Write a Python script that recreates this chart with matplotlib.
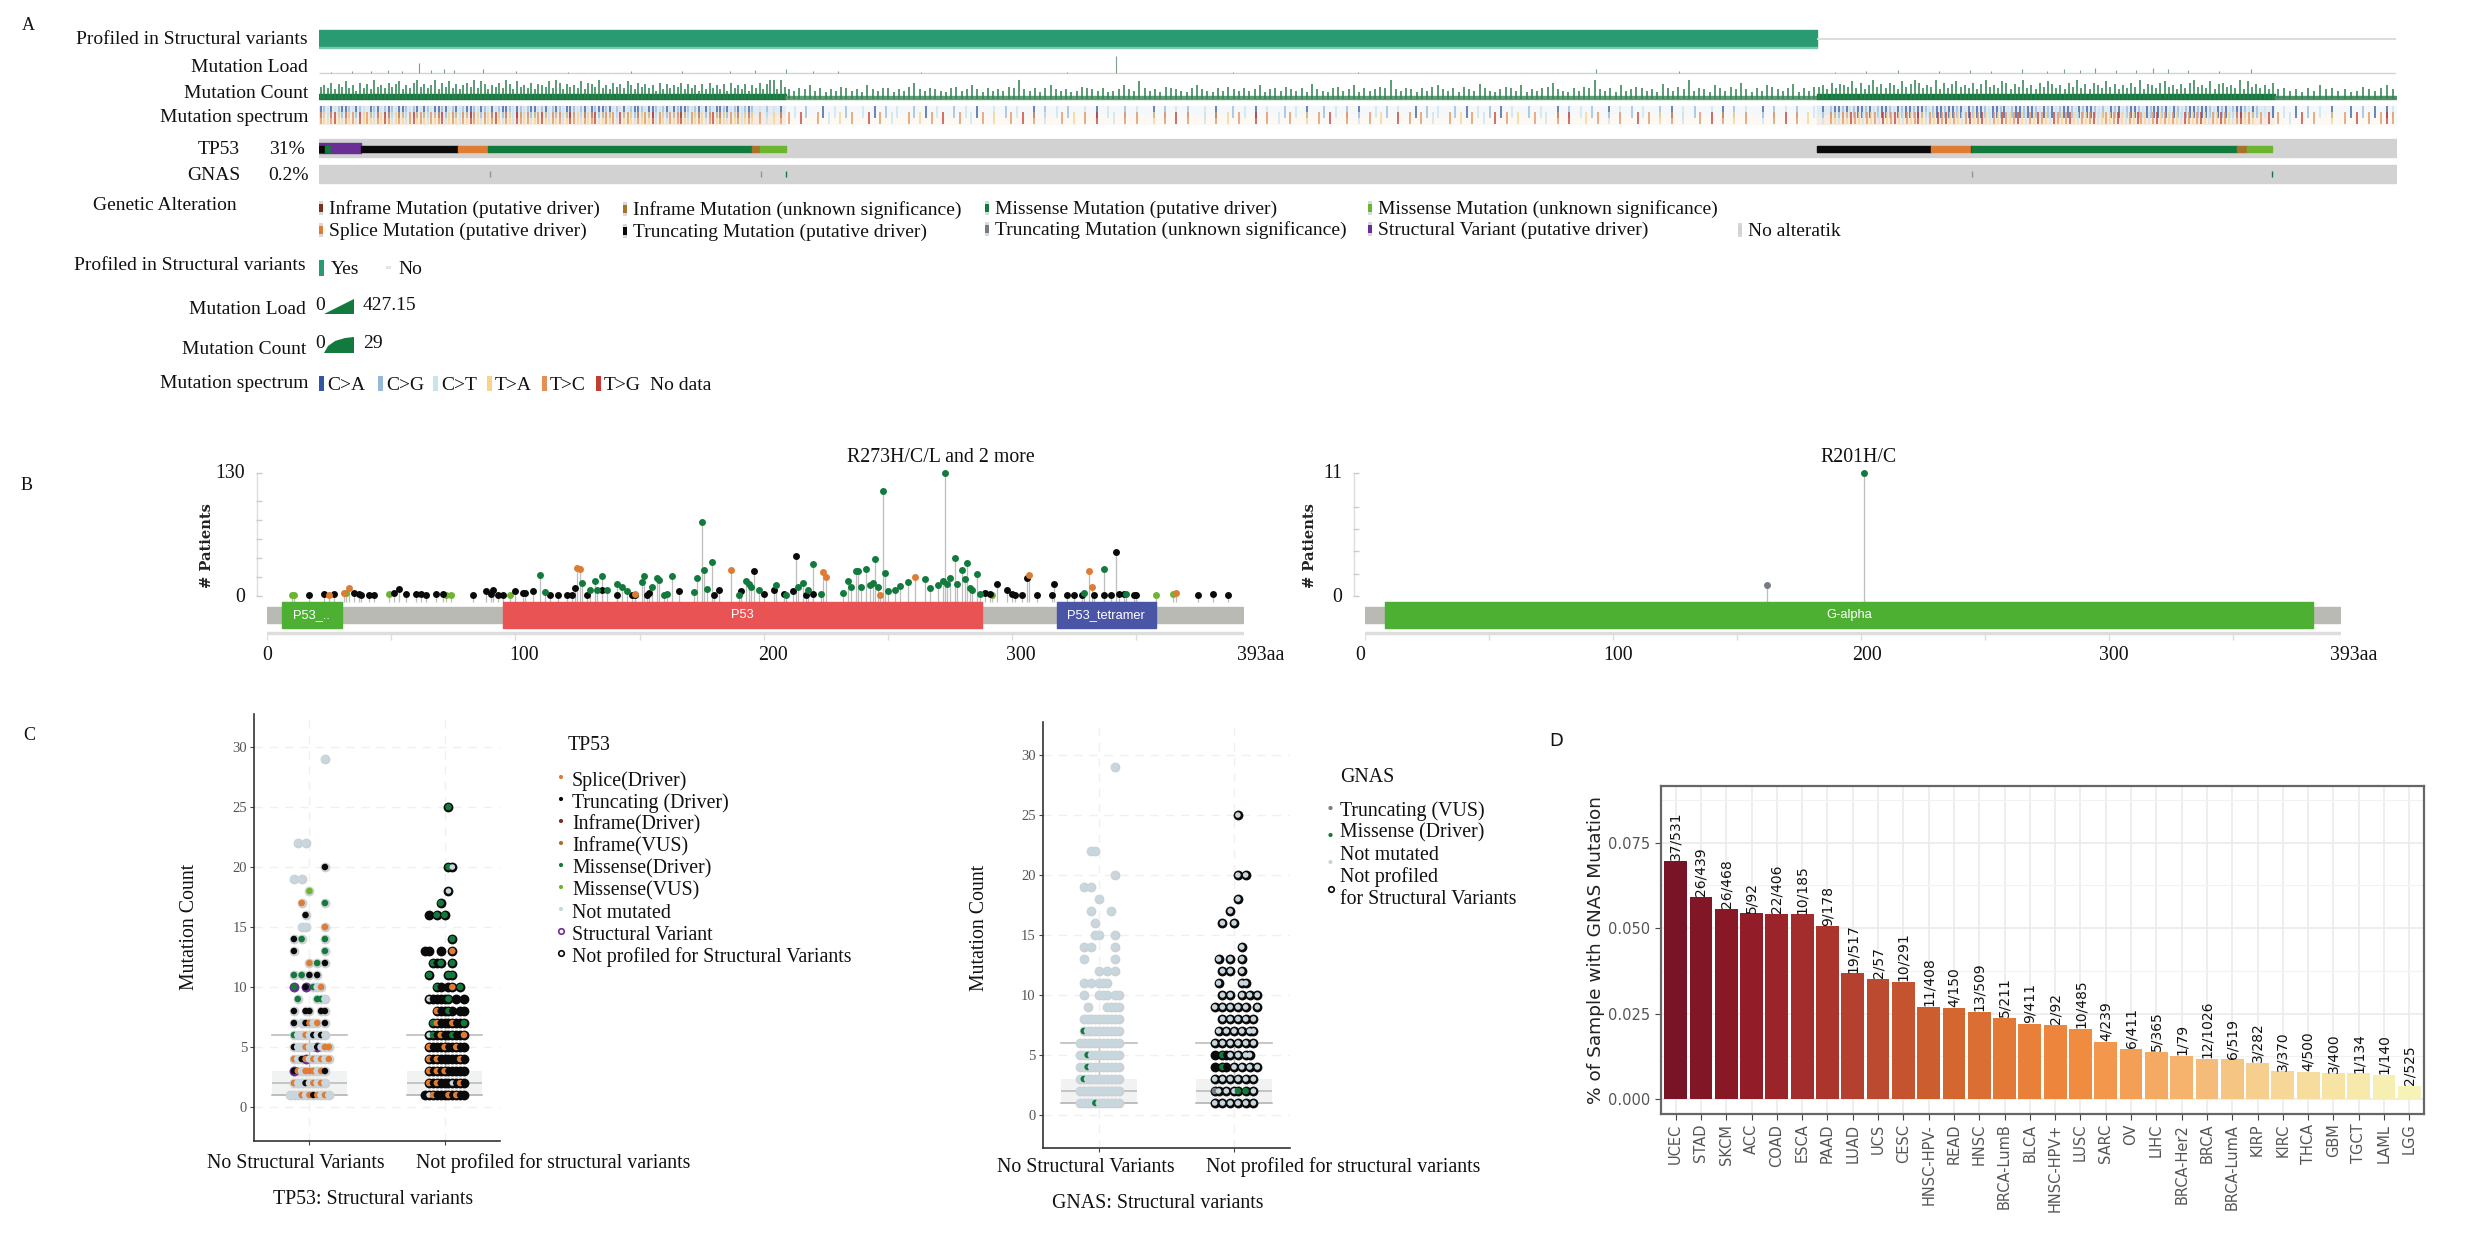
import matplotlib
matplotlib.use("Agg")
import matplotlib.pyplot as plt
from matplotlib.colors import LinearSegmentedColormap
from matplotlib.patches import Polygon, Rectangle

W, H = 2480, 1254
SERIF = "Liberation Serif"

ORANGE = "#DE7C33"
BLACK = "#0A0A0A"
GREEN = "#127A3C"
LGREEN = "#6DB52E"
BROWN = "#A8722C"
DKRED = "#7A3020"
PURPLE = "#6B2E96"
GREY = "#767C84"
NOTMUT = "#C8D6DE"

# ---- panel A, samples along x
n_samples = 10000
profiled_end = 7212
sections = [0, 2250, 7212, 9417, 10000]

tp53_left = [30, 30, 140, 470, 145, 1270, 40, 125]
tp53_left_colors = [BLACK, GREEN, PURPLE, BLACK, ORANGE, GREEN, BROWN, LGREEN]
tp53_right = [550, 190, 8, 1276, 48, 120]
tp53_right_colors = [BLACK, ORANGE, DKRED, GREEN, BROWN, LGREEN]
gnas_samples = [825, 2130, 2248, 7960, 9403]
gnas_colors = ["#8A9A92", "#8A9A92", GREEN, "#8A9A92", "#1F6B4A"]

load_samples = [60, 160, 250, 330, 400, 482, 540, 600, 650, 790, 950, 1200, 1500, 1750, 1980, 2100,
                2250, 2380, 2500, 2900, 3600, 3838, 4400, 5000, 6150, 6550, 7300, 7450, 7600, 7800,
                7950, 8050, 8200, 8320, 8400, 8480, 8550, 8650, 8750, 8830, 8900, 9000, 9150, 9300]
load_values = [25, 30, 40, 55, 45, 250, 70, 90, 60, 100, 30, 25, 30, 35, 45, 60,
               95, 50, 30, 20, 25, 427, 20, 25, 85, 30, 25, 40, 65, 45,
               60, 35, 80, 50, 100, 75, 120, 60, 55, 110, 85, 60, 50, 80]

count_band_heights = [4.3, 3.2, 4.3, 3.2]
count_band_colors = [GREEN, "#5E9C75", GREEN, "#4E9169"]
count_columns = [
    "9a8c7b9d8a6c8b7e9a8c9bd7a8cf9b8ae7c9d8b7ac9e8db7a9c8fb7d9a8c7ba9d8ec7b9a8d7cb9e8a7c9b8da7c9b8a6c7b8a9c7b8a6b7c8a7b6c8a7b6a8c7blf7o9",
    "7687a6857698675a76885769c7687658967a75867698e76858a7675698768567a76d8675987658a76586976867a578697685b7658967a586798f7687"
    "5869a7685976b8657986a57689c7658698e7685a6798675b8697f6875a8697c7586a9768b5869",
    "9a7c8ba9d8c7ae9b8ca7d9bgc8a9e7c8bd9a8c7be9a8dc7b9f8a7c9db8a7c9e8b7ca8d9b7a8c9e7ba8cd9a7b8ce9a8d7bc9a8e7d9b8a7c",
    "7867586a7867569768a7",
]
spectrum_top = [
    "agtatgaagtagt.agatgagtaagtgatagtaagatgatgaagtagtatgaagtagtgaatgatgagtaagtgatagaagatgtatgaagtaagtgatagaagtgatagtaagatgatgag.t.g.t.a.",
    ".t.g..a.t.g..t.a.g.t..g.a.t..g.t.a..t.g.t..a.g.t.g..t.a.t..g.t..a.g.t.g..t.a..g.t.a.t..g.t.a..g.t.g.a..t.g.t..a.g.t..g.a"
    ".t.g.a.t..g.t..a.g.t.g..a.t.g.t..g.a.t.g..t.a.g.t..a.g.t.g..t",
    ".a.gaagatgaagatgaagtagaagaagtgaagaagatagaagtaagatgaagaagtagatgaagtagaagtg.agatgaagtagaagatagtgaagaagtagatgaagtag.t.a",
    ".t.a.g.t.a..a.g.a.at",
]
spectrum_bottom = [
    "cwtcrwtcwctrwcwtcwrctwcwtcrwcwtcwcrtwcwtcwrcwtcwcrwtcwtrcwctwcrwtcwctwrcwtcwcrtwcwctrwcwtcwcwrtcwtcwcrwtcwcwtcrwcwtcwctwcw.c.t.w.c.",
    "c.r..c.t.w.c..r.c.t..c.w.c.r..c.t.c.w..c.r.c.t..c.w.c.r..t.c.c..w.c.r.c..t.c.w.c..r.c.t.c..w.c.r..c.t.c.w..r.c.c.t..c.w."
    "c.t.r.c.w..c.t.c.r..w.c.t.c..r.c.w.c.t..c.r.c.w.c..t.c.r.c.w.",
    ".t.cwtcwrcwtcwctrwcrwtcwcrwtcwrcrwcwtcrwcrwtcwrcwcrwtcwrcwtrcwcrwtcwcrtwcwcrwtcwrcwtcrwcwcwtrcwcrwtcwrcwtcrwcw.c.r.",
    "c.t.r.c..w.c.r.c.crc",
]
spectrum_colors = {"a": "#33579F", "g": "#96B8DB", "t": "#C9E3EF", "w": "#F6D48A", "c": "#E58F58", "r": "#C53A32"}
spectrum_under_top = ["#E2EAF2", "#F5F8FA", "#E2EAF2", "#F5F8FA"]
spectrum_under_bottom = ["#F7ECE2", "#FCF8F4", "#F7ECE2", "#FCF8F4"]

# ---- panel B
tp53_green_pos = [110, 112, 127, 130, 132, 135, 133, 137, 141, 143, 145, 151, 152, 155, 157, 158, 160, 163, 161, 173,
                  175, 176, 179, 177, 172, 190, 193, 194, 195, 198, 205, 209, 214, 216, 220, 218, 223, 232, 234, 235,
                  237, 238, 241, 239, 243, 245, 244, 246, 248, 249, 250, 255, 253, 258, 265, 267, 270, 273, 272, 275,
                  274, 277, 278, 280, 282, 281, 283, 284, 286, 287, 337, 346, 329]
tp53_green_cnt = [22, 4, 14, 6, 16, 21, 6, 6, 13, 10, 5, 15, 21, 10, 19, 17, 1, 21, 2, 19,
                  78, 27, 36, 7, 4, 1, 16, 13, 9, 6, 12, 1, 9, 14, 34, 6, 2, 3, 16, 10,
                  26, 26, 29, 10, 12, 39, 14, 10, 111, 24, 5, 11, 6, 15, 18, 8, 12, 130, 16, 19,
                  13, 40, 13, 28, 35, 18, 8, 6, 23, 2, 29, 2, 3]
tp53_orange_pos = [25, 33, 31, 125, 126, 148, 187, 224, 225, 247, 261, 307, 331, 332, 366]
tp53_orange_cnt = [1, 8, 3, 30, 29, 2, 27, 25, 20, 1, 20, 22, 26, 9, 3]
tp53_black_pos = [17, 23, 27, 35, 37, 38, 41, 43, 51, 53, 56, 60, 62, 64, 68, 71, 83, 88, 91, 90,
                  93, 95, 100, 103, 104, 107, 114, 117, 121, 123, 124, 129, 135, 141, 147, 148, 153, 154, 166, 180,
                  182, 191, 196, 200, 204, 208, 212, 213, 217, 220, 289, 291, 294, 298, 300, 301, 304, 306, 310, 316,
                  317, 322, 325, 328, 333, 337, 340, 342, 343, 345, 349, 350, 375, 381, 387]
tp53_black_cnt = [1, 2, 2, 3, 2, 1, 1, 1, 3, 7, 2, 2, 2, 1, 2, 2, 1, 5, 6, 2,
                  1, 1, 5, 3, 3, 5, 1, 1, 1, 1, 8, 1, 6, 1, 1, 1, 1, 3, 5, 1,
                  6, 5, 26, 2, 6, 2, 5, 42, 1, 2, 3, 2, 13, 6, 2, 1, 1, 19, 1, 1,
                  13, 1, 1, 1, 1, 1, 1, 46, 2, 2, 1, 1, 1, 2, 1]
tp53_lgreen_pos = [10, 11, 32, 49, 72, 74, 98, 292, 358, 365]
tp53_lgreen_cnt = [1, 1, 3, 2, 1, 1, 1, 1, 1, 2]
gnas_lolli_pos = [162, 201]
gnas_lolli_cnt = [1, 11]
gnas_lolli_colors = [GREY, GREEN]

tp53_domains = ["P53_..", "P53", "P53_tetramer"]
tp53_dom_start = [6, 95, 318]
tp53_dom_end = [30, 288, 358]
tp53_dom_colors = ["#4DB032", "#E95354", "#4A55A5"]
gnas_domains = ["G-alpha"]
gnas_dom_start = [8]
gnas_dom_end = [382]
gnas_dom_colors = ["#4DB032"]
tick_aa = [0, 100, 200, 300]

# ---- panel C, rows go from mutation count 1 upward, one char per swarm slot
tp53_no_sv = [
    ".nnnonokonon.", "..onnknonon..", "..Qonooonok..", "..onkRnonono.", "..knnonnQnoo.",
    "..gnnonknkn..", "..k.nkono.k..", "..k..kk..kk..", "...g....ggn..", "..P..Q.gno...",
    "..g.g.k.k....", "......o.g.k..", "..k.......g..", "..k.g.....g..", "....nn....o..",
    ".....k.......", "....o.....g..", "......l......", "..n.n........", "..........k..",
    "", "...n.n.......", "", "", "", "", "", "", "..........n..",
]
tp53_not_prof = [
    ".knokkkokokk.", "..okokkknkok.", "..okokokkkkk.", "..okokkkkkok.", "..okkkokkokk.",
    "..ngkokkgkko.", "...gokkkokkg.", "....okkgk.kk.", "..nkkkkg.k.k.", "....gk.ko.g..",
    "..g....gg....", "...gkg..g....", ".kk..k..o....", "........g....", "",
    "..k.g.g......", ".....g.......", ".......n.....", "", ".......gn....",
    "", "", "", "", ".......g.....",
]
gnas_no_sv = [
    ".nnnngnnnnnn.", ".nnnnnnnnnnn.", ".ngnnnnnnnnn.", ".nngnnnnnnnn.", ".nngnnnnnnnn.",
    ".nnnnnnnnnnn.", "..gnnnnnnnnn.", "..nnnnnnnnnn.", "...n....nnnn.", "..n...nnn.nn.",
    "..n.n.nnn....", "......n.n.n..", "..n.......n..", "..n.n.....n..", ".....nn...n..",
    ".....n.......", "....n....n...", "......n......", "..n.n........", "..........n..",
    "", "....nn.......", "", "", "", "", "", "", "..........n..",
]
gnas_not_prof = [
    ".n.n.n.n.n.n.", ".yn.n.ng.g.n.", ".n.n.n.n.n.n.", ".k.gk.n.n.n.n", ".k.gkn.n.nn..",
    ".n.n.n.n.n.n.", "..n.n.n.n.nn.", "...n.n.n.n.n.", ".n.n.n.n.n..n", "...n.n..n.n.n",
    "..n.....nn...", "...n.n..n....", "..n..n..n....", "........n....", "",
    "...n..n......", ".....n.......", ".......n.....", "", ".......n.n...",
    "", "", "", "", ".......n.....",
]
point_colors = {"o": ORANGE, "k": BLACK, "g": GREEN, "l": LGREEN, "n": NOTMUT, "y": GREY,
                "P": GREEN, "Q": BLACK, "R": ORANGE}
box_q1, box_med, box_q3, box_lo, box_hi = 1, 2, 3, 1, 6

tp53_legend = ["Splice(Driver)", "Truncating (Driver)", "Inframe(Driver)", "Inframe(VUS)", "Missense(Driver)",
               "Missense(VUS)", "Not mutated", "Structural Variant", "Not profiled for Structural Variants"]
tp53_legend_colors = [ORANGE, BLACK, DKRED, BROWN, GREEN, LGREEN, NOTMUT, "white", "white"]
tp53_legend_edges = ["none"] * 7 + [PURPLE, BLACK]

# ---- panel D
cancers = ["UCEC", "STAD", "SKCM", "ACC", "COAD", "ESCA", "PAAD", "LUAD", "UCS", "CESC", "HNSC-HPV-", "READ", "HNSC",
           "BRCA-LumB", "BLCA", "HNSC-HPV+", "LUSC", "SARC", "OV", "LIHC", "BRCA-Her2", "BRCA", "BRCA-LumA", "KIRP",
           "KIRC", "THCA", "GBM", "TGCT", "LAML", "LGG"]
mutated = [37, 26, 26, 5, 22, 10, 9, 19, 2, 10, 11, 4, 13, 5, 9, 2, 10, 4, 6, 5, 1, 12, 6, 3, 3, 4, 3, 1, 1, 2]
totals = [531, 439, 468, 92, 406, 185, 178, 517, 57, 291, 408, 150, 509, 211, 411, 92, 485, 239, 411, 365, 79, 1026,
          519, 282, 370, 500, 400, 134, 140, 525]
bar_stops = ["#781425", "#8F1A28", "#A52E2C", "#BC4A30", "#D0622F", "#E57B37", "#F08A3E", "#F4A55C", "#F5BC7A",
             "#F6D595", "#F7E5A6", "#F7F3B8"]


def axes_px(x0, y0, x1, y1, **kw):
    return fig.add_axes([x0 / W, 1 - y1 / H, (x1 - x0) / W, (y1 - y0) / H], **kw)


def label(x, y, s, size=14, ha="left", family=SERIF, **kw):
    ov.text(x, y + 1, s, fontsize=size, ha=ha, va="center", family=family, color=kw.pop("color", "#111111"), **kw)


fig = plt.figure(figsize=(W / 100, H / 100), dpi=100, facecolor="white")

# overlay in pixels for the text and the little legend keys
ov = axes_px(0, 0, W, H, zorder=5)
ov.set_xlim(0, W)
ov.set_ylim(H, 0)
ov.axis("off")
ov.patch.set_alpha(0)

for x, y, s in [(28, 25, "A"), (27, 485, "B"), (29, 735, "C"), (1556, 740, "D")]:
    label(x, y, s, size=13, ha="center", family="DejaVu Sans" if s == "D" else SERIF)

# ---- panel A tracks, y runs in image pixels so the rows can be laid out directly
onco = axes_px(319, 25, 2396, 190)
onco.set_xlim(0, n_samples)
onco.set_ylim(190, 25)
onco.axis("off")

onco.hlines(38.5, profiled_end, n_samples, color="#DDDDDD", lw=1.4)
onco.broken_barh([(0, profiled_end)], (30, 17), color="#2A9A73")
onco.broken_barh([(0, profiled_end)], (47, 1.2), color="#7CC7AC")

# mutation load
onco.hlines(72.5, 0, n_samples, color="#CFD8CF", lw=1)
onco.vlines(load_samples, 72.5, [72.5 - v / 427 * 17 for v in load_values], color="#7F9F88", lw=0.8)

# mutation count and spectrum, section by section
for i, col_str in enumerate(count_columns):
    start, end = sections[i], sections[i + 1]
    xs = [start + (j + 0.5) * (end - start) / len(col_str) for j in range(len(col_str))]
    tops = [max(80, 98.7 - int(c, 30) / 14 * 18.7) for c in col_str]
    onco.vlines(xs, 98.7, tops, color="#2F8050", lw=1.1)
    onco.broken_barh([(start, end - start)], (98.7 - count_band_heights[i], count_band_heights[i]),
                     color=count_band_colors[i])

    onco.broken_barh([(start, end - start)], (106, 9), color=spectrum_under_top[i], zorder=1)
    onco.broken_barh([(start, end - start)], (115, 9), color=spectrum_under_bottom[i], zorder=1)
    for part, y0, y1 in [(spectrum_top[i], 106, 118), (spectrum_bottom[i], 112, 124)]:
        for j, c in enumerate(part):
            if c in spectrum_colors:
                x = start + (j + 0.5) * (end - start) / len(part)
                onco.vlines(x, y0, y1, color=spectrum_colors[c], lw=1.2, alpha=0.85, zorder=2)

# genes
onco.broken_barh([(0, n_samples)], (139, 18), color="#D2D2D2")
onco.broken_barh([(0, n_samples)], (165, 18), color="#D2D2D2")
onco.broken_barh([(0, 200)], (143, 10), color=PURPLE, zorder=2)
left = 0
for size, c in zip(tp53_left, tp53_left_colors):
    onco.broken_barh([(left, size)], (146, 6), color=c, zorder=3)
    left += size
left = profiled_end
for size, c in zip(tp53_right, tp53_right_colors):
    onco.broken_barh([(left, size)], (146, 6), color=c, zorder=3)
    left += size
onco.vlines(gnas_samples, 171, 177, color=gnas_colors, lw=1)

for y, s in [(38, "Profiled in Structural variants"), (66, "Mutation Load"), (92, "Mutation Count"),
             (117, "Mutation spectrum")]:
    label(308, y, s, ha="right")
label(240, 148, "TP53", ha="right")
label(305, 148, "31%", ha="right")
label(240, 175, "GNAS", ha="right")
label(309, 175, "0.2%", ha="right")
label(93, 204, "Genetic Alteration")

alter_x = [319, 319, 623, 623, 985, 985, 1368, 1368, 1738]
alter_y = [208, 230, 209, 231, 208, 229, 208, 229, 230]
alter_names = ["Inframe Mutation (putative driver)", "Splice Mutation (putative driver)",
               "Inframe Mutation (unknown significance)", "Truncating Mutation (putative driver)",
               "Missense Mutation (putative driver)", "Truncating Mutation (unknown significance)",
               "Missense Mutation (unknown significance)", "Structural Variant (putative driver)", "No alteratik"]
alter_colors = [DKRED, ORANGE, BROWN, BLACK, GREEN, GREY, LGREEN, PURPLE, "#D2D2D2"]
for x, y, s, c in zip(alter_x, alter_y, alter_names, alter_colors):
    ov.add_patch(Rectangle((x, y - 7), 4, 14, color="#D8D8D8", lw=0))
    ov.add_patch(Rectangle((x, y - 4), 4, 8, color=c, lw=0))
    label(x + 10, y, s)

label(306, 265, "Profiled in Structural variants", ha="right")
ov.add_patch(Rectangle((319, 260), 5, 16, color="#2A9A73", lw=0))
label(331, 269, "Yes")
ov.add_patch(Rectangle((386, 266), 5, 3, color="#E4E4E4", lw=0))
label(398, 269, "No")

label(306, 308, "Mutation Load", ha="right")
label(315, 304, "0")
ov.add_patch(Polygon([(324, 314), (354, 299), (354, 314)], color=GREEN, lw=0))
label(363, 305, "427.15")
label(306, 348, "Mutation Count", ha="right")
label(315, 342, "0")
ov.add_patch(Polygon([(324, 353), (328, 346), (335, 341), (345, 338), (354, 337), (354, 353)], color=GREEN, lw=0))
label(363, 342, "29")

label(308, 383, "Mutation spectrum", ha="right")
spec_x = [319, 378, 433, 487, 542, 596]
spec_names = ["C>A", "C>G", "C>T", "T>A", "T>C", "T>G"]
spec_keys = ["a", "g", "t", "w", "c", "r"]
for x, s, k in zip(spec_x, spec_names, spec_keys):
    ov.add_patch(Rectangle((x, 376), 5, 15, color=spectrum_colors[k], lw=0))
    label(x + 8, 385, s)
label(650, 385, "No data")


# ---- panel B
def lollipop(x0, x1, axis_x, title, title_x, ymax, yticks, series, names, starts, ends, colors, lab_x, tick_shift):
    ax = axes_px(x0, 473, x1, 596)
    ax.set_xlim(0, 393)
    ax.set_ylim(0, ymax)
    ax.patch.set_alpha(0)
    ax.axis("off")
    for pos, cnt, c in series:
        ax.vlines(pos, -0.05 * ymax, cnt, color="#BDBDBD", lw=0.9, zorder=1, clip_on=False)
        ax.scatter(pos, cnt, s=25, color=c, zorder=3, clip_on=False, lw=0)

    # protein track, same aa scale as the lollipops
    tr = axes_px(x0, 600, x1, 642)
    tr.set_xlim(0, 393)
    tr.set_ylim(642, 600)
    tr.axis("off")
    tr.broken_barh([(0, 393)], (607, 16), color="#BABAB4")
    for name, a, b, c in zip(names, starts, ends, colors):
        tr.broken_barh([(a, b - a)], (602, 26), color=c)
        tr.text((a + b) / 2, 615, name, color="white", ha="center", va="center", fontsize=9.3, family="Liberation Sans")
    tr.broken_barh([(0, 393)], (632, 2), color="#DDDDDD")
    tr.vlines(range(0, 393, 50), 634, 640, color="#DDDDDD", lw=1)
    tr.vlines(393, 634, 640, color="#DDDDDD", lw=1)
    for v, shift in zip(tick_aa, tick_shift):
        label(x0 + v / 393 * (x1 - x0) + shift, 654, str(v), size=14.3, ha="center")
    label(x1 + tick_shift[-1], 654, "393aa", size=14.3, ha="center")

    label(title_x, 457, title, size=14.3, ha="center")
    ov.vlines(axis_x, 473, 596, color="#DDDDDD", lw=1)
    for t in yticks:
        y = 596 - t / ymax * 123
        ov.hlines(y, axis_x - 1, axis_x + 5, color="#CCCCCC", lw=1)
    label(axis_x - 12, 473, str(ymax), size=14.3, ha="right")
    label(axis_x - 12, 596, "0", size=14.3, ha="right")
    ov.text(lab_x, 546, "# Patients", rotation=90, fontsize=10.5, family="DejaVu Serif", weight="bold",
            ha="center", va="center", color="#222222")


tp53_series = [(p, n, LGREEN) for p, n in zip(tp53_lgreen_pos, tp53_lgreen_cnt)]
tp53_series += [(p, n, BLACK) for p, n in zip(tp53_black_pos, tp53_black_cnt)]
tp53_series += [(p, n, GREEN) for p, n in zip(tp53_green_pos, tp53_green_cnt)]
tp53_series += [(p, n, ORANGE) for p, n in zip(tp53_orange_pos, tp53_orange_cnt)]
lollipop(267, 1243, 257, "R273H/C/L and 2 more", 941, 130, [0, 20, 40, 60, 80, 100, 130], tp53_series,
         tp53_domains, tp53_dom_start, tp53_dom_end, tp53_dom_colors, 207, [0, 9, 9, 9, 18])
gnas_series = list(zip(gnas_lolli_pos, gnas_lolli_cnt, gnas_lolli_colors))
lollipop(1365, 2340, 1354, "R201H/C", 1859, 11, [0, 2, 4, 6, 8, 11], gnas_series,
         gnas_domains, gnas_dom_start, gnas_dom_end, gnas_dom_colors, 1310, [-5, 5, 6, 5, 14])


# ---- panel C
SLOT = 0.0287


def swarm(ax, rows, cat, halo, notmut_size):
    xs, ys, cols, ring_x, ring_y = [], [], [], [], []
    for i, row in enumerate(rows):
        for j, c in enumerate(row):
            if c == ".":
                continue
            x = cat + (j - 6) * SLOT
            xs.append(x)
            ys.append(i + 1)
            cols.append(point_colors[c])
            if c in "PQR":
                ring_x.append(x)
                ring_y.append(i + 1)
    ax.scatter(xs, ys, s=50, color=halo, lw=0, zorder=3)
    ax.scatter(ring_x, ring_y, s=50, color=PURPLE, lw=0, zorder=3.5)
    inner = [notmut_size if c == NOTMUT else 22 for c in cols]
    ax.scatter(xs, ys, s=inner, color=cols, lw=0, zorder=4)


def dot_panel(x0, y0, x1, y1, xlim, ylim, rows_no, rows_prof):
    ax = axes_px(x0, y0, x1, y1)
    ax.set_xlim(*xlim)
    ax.set_ylim(*ylim)
    for side in ["top", "right"]:
        ax.spines[side].set_visible(False)
    for side in ["left", "bottom"]:
        ax.spines[side].set_color("#333333")
        ax.spines[side].set_linewidth(1.2)
    ax.grid(True, ls=(0, (6, 5)), color="#F0F0F0", lw=1)
    ax.set_axisbelow(True)
    ax.set_yticks(range(0, 31, 5))
    ax.set_xticks([0, 1])
    ax.set_xticklabels([])
    ax.tick_params(axis="y", labelsize=10.5, labelcolor="#555555", length=3, color="#444444", pad=2)
    ax.tick_params(axis="x", length=3, color="#444444")
    for t in ax.get_yticklabels():
        t.set_family(SERIF)
    stats = [dict(med=box_med, q1=box_q1, q3=box_q3, whislo=box_lo, whishi=box_hi, fliers=[]) for _ in range(2)]
    ax.bxp(stats, positions=[0, 1], widths=0.56, capwidths=0.56, patch_artist=True, showfliers=False,
           manage_ticks=False, zorder=2,
           boxprops=dict(facecolor="#F1F2F2", edgecolor="none"),
           medianprops=dict(color="#BDBDBD", lw=1.2),
           whiskerprops=dict(color="#BDBDBD", lw=1),
           capprops=dict(color="#BDBDBD", lw=1.2))
    ax.hlines(box_lo, -0.28, 0.28, color="#BDBDBD", lw=1.2, zorder=2)
    ax.hlines(box_lo, 0.72, 1.28, color="#BDBDBD", lw=1.2, zorder=2)
    swarm(ax, rows_no, 0, "#CDD0D3", 30)
    swarm(ax, rows_prof, 1, "#0A0A0A", 16)
    return ax


dot_panel(254, 714, 500, 1141, (-0.41, 1.41), (-2.83, 32.75), tp53_no_sv, tp53_not_prof)
dot_panel(1042.6, 722, 1290, 1148, (-0.42, 1.415), (-2.75, 32.75), gnas_no_sv, gnas_not_prof)

label(296, 1162, "No Structural Variants", size=14.3, ha="center")
label(553, 1162, "Not profiled for structural variants", size=14.3, ha="center")
label(373, 1198, "TP53: Structural variants", size=14.3, ha="center")
label(190, 926, "Mutation Count", size=14.3, ha="center", rotation=90)
label(568, 744, "TP53", size=14.3)
legend_y = [780, 802, 824, 846, 868, 890, 912, 934, 956]
for y, s, c, e in zip(legend_y, tp53_legend, tp53_legend_colors, tp53_legend_edges):
    size = 16 if e != "none" else 9
    ov.scatter(561, y - 3, s=size, color=c, edgecolors=e, linewidths=1.2 if e != "none" else 0)
    label(572, y, s, size=14.3)

label(1086, 1166, "No Structural Variants", size=14.3, ha="center")
label(1343.5, 1166, "Not profiled for structural variants", size=14.3, ha="center")
label(1158, 1203, "GNAS: Structural variants", size=14.3, ha="center")
label(979, 927, "Mutation Count", size=14.3, ha="center", rotation=90)
label(1340, 776, "GNAS", size=14.3)
for y, my, s, c, e in [(810, 808, "Truncating (VUS)", GREY, "none"), (832, 835, "Missense (Driver)", GREEN, "none"),
                       (854, 862, "Not mutated", NOTMUT, "none"), (876, 889, "Not profiled", "white", BLACK),
                       (898, None, "for Structural Variants", None, None)]:
    if c is not None:
        ov.scatter(1330.5, my, s=16 if e != "none" else 9, color=c, edgecolors=e,
                   linewidths=1.2 if e != "none" else 0)
    label(1340, y, s, size=14.3)

# ---- panel D
ratios = [m / t for m, t in zip(mutated, totals)]
cmap = LinearSegmentedColormap.from_list("bars", bar_stops)
bar_colors = [cmap(i / (len(cancers) - 1)) for i in range(len(cancers))]
axd = axes_px(1661, 786, 2424, 1114)
axd.bar(range(len(cancers)), ratios, width=0.9, color=bar_colors, zorder=3)
axd.set_xlim(-0.58, 29.58)
axd.set_ylim(-0.0044, 0.0916)
axd.set_yticks([0, 0.025, 0.05, 0.075])
axd.set_yticklabels(["0.000", "0.025", "0.050", "0.075"])
axd.set_yticks([0.0125, 0.0375, 0.0625, 0.0875], minor=True)
axd.set_xticks(range(len(cancers)))
axd.set_xticklabels(cancers, rotation=90, fontsize=10.5, color="#555555")
axd.tick_params(axis="y", labelsize=10.5, labelcolor="#555555", color="#444444", length=4)
axd.tick_params(axis="y", which="minor", length=0)
axd.tick_params(axis="x", color="#444444", length=4, pad=3)
axd.grid(True, which="major", color="#EBEBEB", lw=1.2)
axd.grid(True, which="minor", axis="y", color="#F2F2F2", lw=0.8)
axd.set_axisbelow(True)
for s in axd.spines.values():
    s.set_color("#666666")
    s.set_linewidth(1.6)
for i, (m, t, r) in enumerate(zip(mutated, totals, ratios)):
    axd.text(i, r + 0.0002, "%d/%d" % (m, t), rotation=90, ha="center", va="bottom", fontsize=10, color="#111111",
             zorder=4)
ov.text(1596, 950, "% of Sample with GNAS Mutation", rotation=90, fontsize=13.3, ha="center", va="center",
        color="#222222")

fig.savefig("out.png", dpi=100, facecolor="white")
